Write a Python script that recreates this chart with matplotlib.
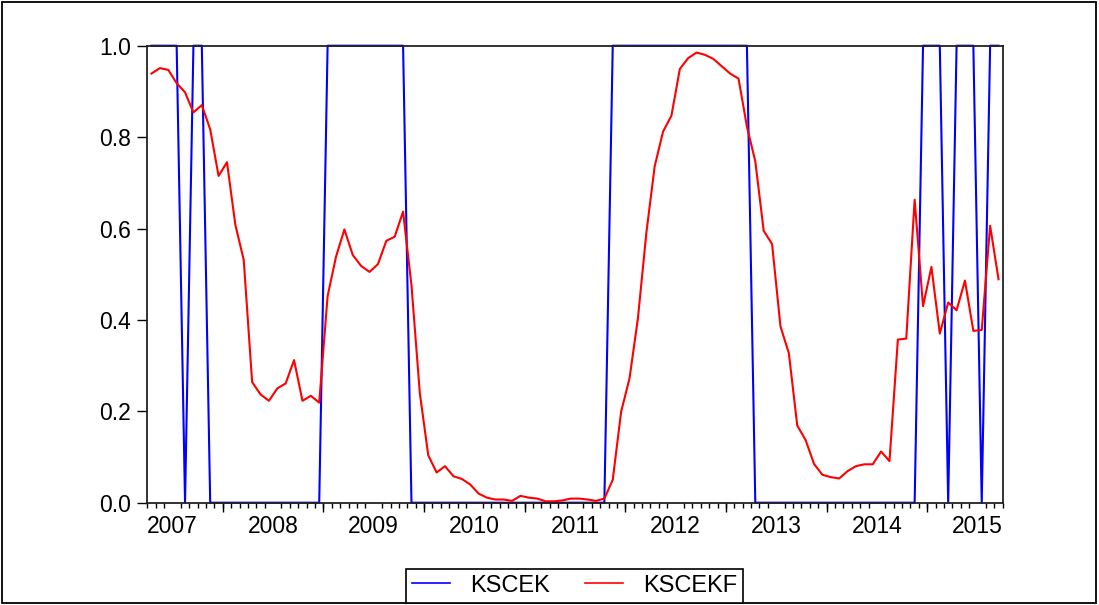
import numpy as np
import matplotlib
matplotlib.use("Agg")
import matplotlib.pyplot as plt
from matplotlib.patches import Rectangle

plt.rcParams["font.family"] = ["Liberation Sans", "DejaVu Sans"]

# Monthly sample starting 2007M04
start_year, start_month = 2007, 4
years = [2007, 2008, 2009, 2010, 2011, 2012, 2013, 2014, 2015]

kscek = [1, 1, 1, 1, 0, 1, 1, 0, 0, 0,
         0, 0, 0, 0, 0, 0, 0, 0, 0, 0,
         0, 1, 1, 1, 1, 1, 1, 1, 1, 1,
         1, 0, 0, 0, 0, 0, 0, 0, 0, 0,
         0, 0, 0, 0, 0, 0, 0, 0, 0, 0,
         0, 0, 0, 0, 0, 1, 1, 1, 1, 1,
         1, 1, 1, 1, 1, 1, 1, 1, 1, 1,
         1, 1, 0, 0, 0, 0, 0, 0, 0, 0,
         0, 0, 0, 0, 0, 0, 0, 0, 0, 0,
         0, 0, 1, 1, 1, 0, 1, 1, 1, 0,
         1, 1]

kscekf = [0.939, 0.951, 0.947, 0.918, 0.898, 0.854, 0.870, 0.817, 0.715, 0.745,
          0.608, 0.531, 0.264, 0.237, 0.223, 0.250, 0.261, 0.312, 0.223, 0.234,
          0.219, 0.452, 0.538, 0.598, 0.542, 0.518, 0.505, 0.522, 0.573, 0.582,
          0.637, 0.476, 0.239, 0.104, 0.066, 0.080, 0.058, 0.052, 0.040, 0.020,
          0.011, 0.007, 0.007, 0.004, 0.015, 0.011, 0.009, 0.003, 0.003, 0.005,
          0.009, 0.009, 0.007, 0.004, 0.009, 0.050, 0.199, 0.272, 0.403, 0.589,
          0.736, 0.812, 0.847, 0.949, 0.973, 0.985, 0.980, 0.971, 0.955, 0.939,
          0.928, 0.823, 0.747, 0.595, 0.566, 0.386, 0.327, 0.169, 0.137, 0.085,
          0.061, 0.056, 0.053, 0.069, 0.080, 0.084, 0.084, 0.112, 0.091, 0.357,
          0.359, 0.663, 0.430, 0.516, 0.370, 0.438, 0.421, 0.486, 0.376, 0.378,
          0.606, 0.489]

n = len(kscekf)
x = np.arange(n)


def month_index(y):
    return (y - start_year) * 12 - (start_month - 1)


year_bounds = [month_index(y) - 0.5 for y in years[1:]]
year_centers = [month_index(y) + 5.5 for y in years]

W, H = 1099, 605
fig = plt.figure(figsize=(W / 100, H / 100), dpi=100)
ax = fig.add_axes([147.3 / W, 1 - 502.7 / H, (1002.7 - 147.3) / W, (502.7 - 45.7) / H])

ax.plot(x, kscek, color="#0000ff", lw=1.5, clip_on=False, label="KSCEK", zorder=2)
ax.plot(x, kscekf, color="#ff0000", lw=1.5, clip_on=False, label="KSCEKF", zorder=3)

ax.set_xlim(-0.5, n - 0.5)
ax.set_ylim(0, 1)

yt = [0.0, 0.2, 0.4, 0.6, 0.8, 1.0]
ax.set_yticks(yt, ["%.1f" % v for v in yt])
ax.tick_params(axis="y", direction="out", length=7, width=1, pad=5, labelsize=16.5)

ax.set_xticks(year_centers, [str(y) for y in years])
ax.tick_params(axis="x", which="major", length=0, pad=9, labelsize=16.5)
ax.set_xticks(np.arange(-0.5, n, 1.0), minor=True)
ax.tick_params(axis="x", which="minor", direction="out", length=3.6, width=1)

sec = ax.secondary_xaxis("bottom")
sec.set_xticks(year_bounds)
sec.tick_params(axis="x", direction="out", length=6.8, width=1, labelbottom=False)
sec.spines["bottom"].set_visible(False)

for s in ax.spines.values():
    s.set_linewidth(1.3)
    s.set_color("#222222")
    s.set_zorder(5)

leg = fig.legend(loc="lower center", bbox_to_anchor=(574.5 / W, 2.5 / H), ncol=2,
                 frameon=True, fancybox=False, edgecolor="black", framealpha=1,
                 fontsize=17, handlelength=1.6, handletextpad=0.85, columnspacing=1.5,
                 borderpad=0.25, borderaxespad=0)
leg.get_frame().set_linewidth(1.2)
for l in leg.get_lines():
    l.set_linewidth(1.2)

fig.add_artist(Rectangle((2 / W, 2 / H), (1096 - 2) / W, (603 - 2) / H,
                         transform=fig.transFigure, fill=False, lw=1.3, ec="black"))

fig.savefig("out.png", dpi=100)
